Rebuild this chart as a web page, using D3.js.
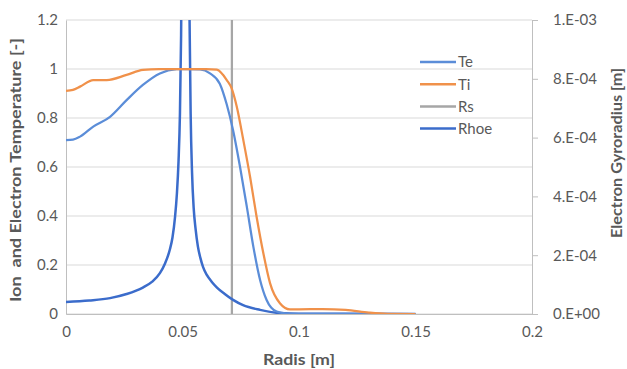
<!DOCTYPE html>
<html>
<head>
<meta charset="utf-8">
<script src="https://cdn.jsdelivr.net/npm/d3@7"></script>
<style>
  body { margin: 0; background: #fff; }
  text { font-family: Lato, "Liberation Sans", sans-serif; fill: #595959; }
</style>
</head>
<body>
<div id="chart"></div>
<script>
width = 627;
height = 369;
margins = {left: 66, right: 95, top: 20, bottom: 55};

// Te and Ti, left axis [-]
teR   = [0, 0.003, 0.006, 0.0117, 0.0189, 0.026, 0.033, 0.0403, 0.0475, 0.052, 0.0575, 0.0618, 0.066, 0.069, 0.0717, 0.0747, 0.0776, 0.0804, 0.0833, 0.0861, 0.0904, 0.095, 0.1, 0.15];
teVal = [0.71, 0.712, 0.724, 0.765, 0.805, 0.873, 0.935, 0.982, 0.999, 1.0, 0.998, 0.982, 0.94, 0.855, 0.75, 0.60, 0.438, 0.275, 0.139, 0.057, 0.01, 0.002, 0.001, 0];

tiR   = [0, 0.003, 0.006, 0.0117, 0.0175, 0.026, 0.033, 0.04, 0.05, 0.06, 0.0647, 0.069, 0.0711, 0.0733, 0.0761, 0.079, 0.0818, 0.0847, 0.0876, 0.0918, 0.0961, 0.1, 0.11, 0.12, 0.13, 0.138, 0.15];
tiVal = [0.911, 0.915, 0.928, 0.955, 0.955, 0.976, 0.996, 1.0, 1.0, 1.0, 0.997, 0.955, 0.921, 0.846, 0.71, 0.56, 0.397, 0.248, 0.125, 0.044, 0.019, 0.019, 0.02, 0.017, 0.006, 0.001, 0];

// Rs vertical marker
rsR   = [0.0712, 0.0712];
rsVal = [0, 1.2];

// Rhoe, right axis [m]
rhoeR   = [0, 0.01, 0.0189, 0.026, 0.033, 0.037, 0.0403, 0.0425, 0.0446, 0.0457, 0.0468, 0.0476, 0.0483, 0.0489, 0.0494, 0.0498, 0.0513,
           0.0527, 0.0531, 0.0535, 0.0541, 0.0548, 0.0556, 0.0566, 0.0577, 0.0588, 0.0605, 0.0625, 0.0648, 0.068, 0.0717, 0.076, 0.0833, 0.092, 0.1, 0.15];
rhoeVal = [4.1e-5, 4.6e-5, 5.4e-5, 6.8e-5, 9.0e-5, 1.1e-4, 1.39e-4, 1.72e-4, 2.2e-4, 2.6e-4, 3.3e-4, 4.1e-4, 5.2e-4, 6.8e-4, 9.5e-4, 1.35e-3, 5e-3,
           1.3e-3, 9.5e-4, 6.8e-4, 4.8e-4, 3.6e-4, 2.9e-4, 2.3e-4, 1.9e-4, 1.6e-4, 1.32e-4, 1.1e-4, 9.0e-5, 6.9e-5, 4.8e-5, 3.0e-5, 1.4e-5, 3e-6, 1e-6, 0];

xTicks = [0, 0.05, 0.1, 0.15, 0.2];
leftTicks = [0, 0.2, 0.4, 0.6, 0.8, 1, 1.2];
rightTicks = [0, 2e-4, 4e-4, 6e-4, 8e-4, 1e-3];
rightLabels = ["0.E+00", "2.E-04", "4.E-04", "6.E-04", "8.E-04", "1.E-03"];

seriesNames = ["Te", "Ti", "Rs", "Rhoe"];
seriesColors = ["#5b8dd8", "#f0914a", "#a6a6a6", "#3b6ccb"];

var x0 = margins.left, x1 = width - margins.right;
var y0 = height - margins.bottom, y1 = margins.top;

var xScale = d3.scaleLinear().domain([0, 0.2]).range([x0, x1]);
var yLeft = d3.scaleLinear().domain([0, 1.2]).range([y0, y1]);
var yRight = d3.scaleLinear().domain([0, 1e-3]).range([y0, y1]);

var svg = d3.select("#chart").append("svg")
    .attr("width", width)
    .attr("height", height);

svg.append("defs").append("clipPath").attr("id", "clip")
    .append("rect").attr("x", x0).attr("y", y1).attr("width", x1 - x0).attr("height", y0 - y1);

// gridlines
svg.append("g").selectAll("line").data(leftTicks).enter().append("line")
    .attr("x1", x0).attr("x2", x1)
    .attr("y1", d => yLeft(d)).attr("y2", d => yLeft(d))
    .attr("stroke", "#d9d9d9").attr("stroke-width", 1);

// left axis
var leftAxis = svg.append("g")
    .attr("transform", "translate(" + x0 + ",0)")
    .call(d3.axisLeft(yLeft).tickValues(leftTicks).tickSize(0).tickPadding(8).tickFormat(d3.format("~g")));
leftAxis.select(".domain").attr("stroke", "#bfbfbf");

// right axis
var rightAxis = svg.append("g")
    .attr("transform", "translate(" + x1 + ",0)")
    .call(d3.axisRight(yRight).tickValues(rightTicks).tickSizeInner(6).tickSizeOuter(0).tickPadding(15)
        .tickFormat((d, i) => rightLabels[i]));
rightAxis.select(".domain").attr("stroke", "#bfbfbf");
rightAxis.selectAll(".tick line").attr("stroke", "#bfbfbf");

// bottom axis
var bottomAxis = svg.append("g")
    .attr("transform", "translate(0," + y0 + ")")
    .call(d3.axisBottom(xScale).tickValues(xTicks).tickSize(0).tickPadding(12).tickFormat(d3.format("~g")));
bottomAxis.select(".domain").attr("stroke", "#bfbfbf");

svg.selectAll(".tick text").style("font-size", "15px").attr("fill", "#595959");

// series lines
var plot = svg.append("g").attr("clip-path", "url(#clip)");

function drawLine(xs, ys, yScale, color, width, curve) {
    var pts = xs.map((v, i) => [v, ys[i]]);
    plot.append("path")
        .datum(pts)
        .attr("fill", "none")
        .attr("stroke", color)
        .attr("stroke-width", width)
        .attr("d", d3.line().x(d => xScale(d[0])).y(d => yScale(d[1])).curve(curve));
}

drawLine(rsR, rsVal, yLeft, seriesColors[2], 2.25, d3.curveLinear);
drawLine(rhoeR, rhoeVal, yRight, seriesColors[3], 2.5, d3.curveMonotoneX);
drawLine(teR, teVal, yLeft, seriesColors[0], 2.25, d3.curveMonotoneX);
drawLine(tiR, tiVal, yLeft, seriesColors[1], 2.25, d3.curveMonotoneX);

// legend
var legend = svg.append("g");
seriesNames.forEach(function(name, i) {
    var ly = 62 + i * 22.2;
    legend.append("line")
        .attr("x1", 420).attr("x2", 456)
        .attr("y1", ly).attr("y2", ly)
        .attr("stroke", seriesColors[i]).attr("stroke-width", 2.5);
    legend.append("text")
        .attr("x", 458).attr("y", ly)
        .attr("dy", "0.36em")
        .style("font-size", "15px")
        .text(name);
});

// axis titles
svg.append("text")
    .attr("x", (x0 + x1) / 2).attr("y", 365)
    .attr("text-anchor", "middle")
    .attr("textLength", 72).attr("lengthAdjust", "spacingAndGlyphs")
    .style("font-size", "15px").style("font-weight", "bold").attr("fill", "#404040")
    .text("Radis [m]");

svg.append("text")
    .attr("transform", "translate(21," + 170 + ") rotate(-90)")
    .attr("text-anchor", "middle")
    .attr("textLength", 264).attr("lengthAdjust", "spacingAndGlyphs")
    .style("font-size", "15px").style("font-weight", "bold").style("white-space", "pre").attr("fill", "#404040")
    .text("Ion  and Electron Temperature [-]");

svg.append("text")
    .attr("transform", "translate(622," + 153 + ") rotate(-90)")
    .attr("text-anchor", "middle")
    .attr("textLength", 170).attr("lengthAdjust", "spacingAndGlyphs")
    .style("font-size", "15px").style("font-weight", "bold").attr("fill", "#404040")
    .text("Electron Gyroradius [m]");
</script>
</body>
</html>
